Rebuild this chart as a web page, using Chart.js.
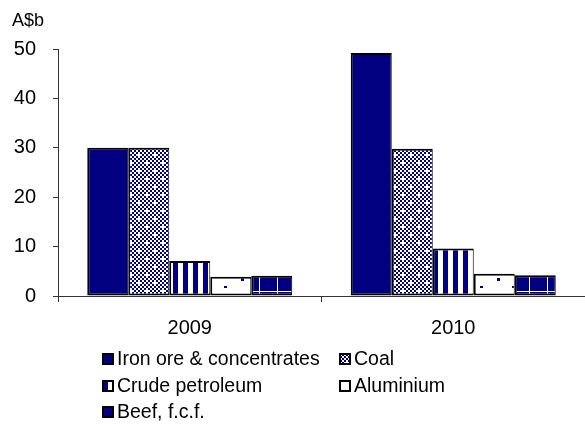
<!DOCTYPE html>
<html><head><meta charset="utf-8">
<script src="https://cdn.jsdelivr.net/npm/chart.js@4"></script>
<style>html,body{margin:0;padding:0;background:#fff;}</style>
</head><body>
<canvas id="c" width="585" height="424" style="width:585px;height:424px;display:block"></canvas>
<script>
const categories = ['2009', '2010'];
const seriesNames = ['Iron ore & concentrates', 'Coal', 'Crude petroleum', 'Aluminium', 'Beef, f.c.f.'];
const ironOre = [30.0, 49.2];
const coal = [30.0, 29.8];
const crudePetroleum = [7.1, 9.6];
const aluminium = [3.9, 4.5];
const beef = [4.1, 4.2];
const yTicks = [0, 10, 20, 30, 40, 50];
const yUnit = 'A$b';

const FONT = '"Liberation Sans", Arial, sans-serif';
const NAVY = '#000080';
const canvas = document.getElementById('c');
const mainCtx = canvas.getContext('2d');

function makePattern(w, h, draw) {
  const t = document.createElement('canvas');
  t.width = w; t.height = h;
  const x = t.getContext('2d');
  draw(x, w, h);
  return mainCtx.createPattern(t, 'repeat');
}
const coalPat = makePattern(16, 16, (x) => {
  x.fillStyle = '#fff'; x.fillRect(0, 0, 16, 16);
  x.fillStyle = NAVY;
  for (let cy = 0; cy < 8; cy++) for (let cx = 0; cx < 8; cx++) {
    if ((cx + cy) % 2 === 0 && !((cx === 1 && cy === 1) || (cx === 5 && cy === 5))) x.fillRect(cx * 2, cy * 2, 2, 2);
  }
});
const crudePat = makePattern(10, 10, (x) => {
  x.fillStyle = '#fff'; x.fillRect(0, 0, 10, 10);
  x.fillStyle = NAVY; x.fillRect(3, 0, 5, 10);
});
const alumPat = makePattern(32, 16, (x) => {
  x.fillStyle = '#fff'; x.fillRect(0, 0, 32, 16);
  x.fillStyle = NAVY; x.fillRect(0, 14, 3, 3); x.fillRect(17, 6, 3, 3);
});
const beefPat = makePattern(18, 18, (x) => {
  x.fillStyle = NAVY; x.fillRect(0, 0, 18, 18);
  x.fillStyle = '#fff'; x.fillRect(7, 0, 1, 18); x.fillRect(0, 3, 18, 1);
});

const fills = [NAVY, coalPat, crudePat, alumPat, beefPat];
const values = [ironOre, coal, crudePetroleum, aluminium, beef];

const legendPlugin = {
  id: 'customLegend',
  afterDraw(chart) {
    const ctx = chart.ctx;
    const pos = [[102, 359], [339, 359], [102, 386], [339, 386], [102, 412]];
    ctx.save();
    ctx.font = '19.5px ' + FONT;
    ctx.textBaseline = 'middle';
    ctx.textAlign = 'left';
    chart.data.datasets.forEach((ds, i) => {
      const [x, y] = pos[i];
      ctx.fillStyle = ds.backgroundColor;
      ctx.fillRect(x, y - 6, 12, 12);
      ctx.lineWidth = 2; ctx.strokeStyle = '#000';
      ctx.strokeRect(x + 1, y - 5, 10, 10);
      ctx.fillStyle = '#000';
      ctx.fillText(ds.label, x + 15, y + 1);
    });
    ctx.font = '18px ' + FONT;
    ctx.fillText(yUnit, 12, 21);
    ctx.restore();
  }
};

new Chart(canvas, {
  type: 'bar',
  data: {
    labels: categories,
    datasets: seriesNames.map((name, i) => ({
      label: name,
      data: values[i],
      backgroundColor: fills[i],
      borderColor: '#000',
      borderWidth: { top: 2, left: 2, right: 1, bottom: 2 },
      borderSkipped: false,
      categoryPercentage: 0.778,
      barPercentage: 1
    }))
  },
  options: {
    responsive: false,
    animation: false,
    layout: { padding: { top: 49, left: 0, right: 0, bottom: 0 } },
    plugins: { legend: { display: false }, tooltip: { enabled: false } },
    scales: {
      x: {
        offset: true,
        grid: { display: true, drawOnChartArea: false, drawTicks: true, tickLength: 6, color: '#333', offset: true },
        border: { display: true, color: '#333', width: 1 },
        ticks: { font: { family: FONT, size: 20 }, color: '#000', padding: 14 },
        afterFit(s) { s.height = 128; }
      },
      y: {
        min: 0, max: 50,
        afterBuildTicks(s) { s.ticks = yTicks.map(v => ({ value: v })); },
        grid: { drawOnChartArea: false, drawTicks: true, tickLength: 5, color: '#333' },
        border: { display: true, color: '#333', width: 1 },
        ticks: { font: { family: FONT, size: 20 }, color: '#000', padding: 17 },
        afterFit(s) { s.width = 58; }
      }
    }
  },
  plugins: [legendPlugin]
});
</script>
</body></html>
